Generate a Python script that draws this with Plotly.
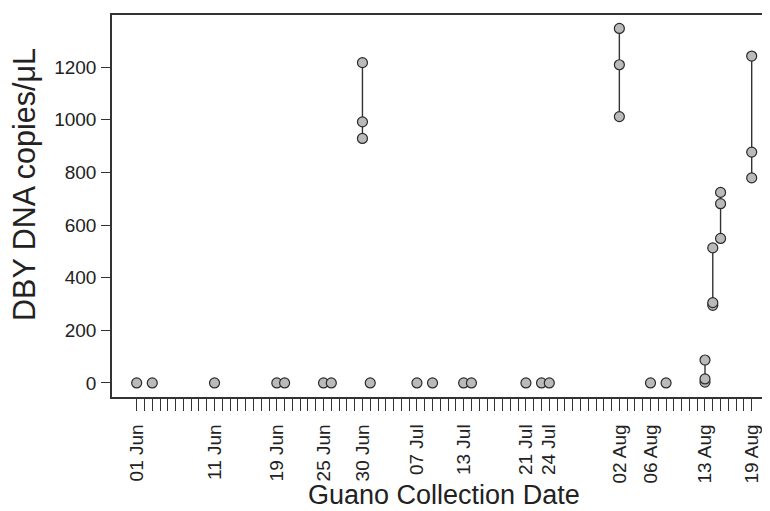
import plotly.graph_objects as go
from datetime import datetime, timedelta

YEAR = 2017

# one entry per sample: collection date (MM-DD) and DBY DNA copies/uL
collection_dates = [
    "06-01", "06-03", "06-11", "06-19", "06-20", "06-25", "06-26",
    "06-30", "06-30", "06-30", "07-01", "07-07", "07-09", "07-13", "07-14",
    "07-21", "07-23", "07-24",
    "08-02", "08-02", "08-02", "08-06", "08-08",
    "08-13", "08-13", "08-13",
    "08-14", "08-14", "08-14",
    "08-15", "08-15", "08-15",
    "08-19", "08-19", "08-19",
]
dna_copies = [
    0, 0, 0, 0, 0, 0, 0,
    1217, 992, 929, 0, 0, 0, 0, 0,
    0, 0, 0,
    1347, 1209, 1012, 0, 0,
    87, 15, 3,
    513, 305, 295,
    724, 681, 549,
    1242, 877, 779,
]

# labelled ticks on the date axis
tick_dates = ["06-01", "06-11", "06-19", "06-25", "06-30", "07-07", "07-13",
              "07-21", "07-24", "08-02", "08-06", "08-13", "08-19"]
tick_labels = ["01 Jun", "11 Jun", "19 Jun", "25 Jun", "30 Jun", "07 Jul", "13 Jul",
               "21 Jul", "24 Jul", "02 Aug", "06 Aug", "13 Aug", "19 Aug"]
first_day, last_day = "06-01", "08-19"
y_ticks = [0, 200, 400, 600, 800, 1000, 1200]


def to_date(md):
    return datetime.strptime(f"{YEAR}-{md}", "%Y-%m-%d")


def fmt(d):
    return d.strftime("%Y-%m-%d %H:%M:%S")


fig = go.Figure()

# group samples by date, draw a vertical segment between min and max
groups = {}
for d, v in zip(collection_dates, dna_copies):
    groups.setdefault(d, []).append(v)

for d, vals in groups.items():
    vs = sorted(vals)
    fig.add_trace(go.Scatter(
        x=[fmt(to_date(d))] * len(vs), y=vs,
        mode="lines+markers",
        line=dict(color="#333333", width=1.4),
        marker=dict(size=10, color="#BABABA", line=dict(color="#2a2a2a", width=1.2)),
        showlegend=False, hoverinfo="x+y",
    ))

# daily ticks
d0, d1 = to_date(first_day), to_date(last_day)
all_days = []
d = d0
while d <= d1:
    all_days.append(d)
    d += timedelta(days=1)
label_map = {to_date(t): lab for t, lab in zip(tick_dates, tick_labels)}
tickvals = [fmt(x) for x in all_days]
ticktext = [label_map.get(x, "") for x in all_days]

x_left = d0 - timedelta(days=3.17)
x_right = d0 + timedelta(days=81.35)

font_family = "Liberation Sans, Arial, sans-serif"

# page body has an 8px margin, so the figure is 762x503 placed at (8, 8)
fig.update_layout(
    width=762, height=503,
    margin=dict(l=104, r=0, t=7, b=114),
    paper_bgcolor="white", plot_bgcolor="white",
    font=dict(family=font_family, color="#222222"),
    xaxis=dict(
        type="date", range=[fmt(x_left), fmt(x_right)],
        tickmode="array", tickvals=tickvals, ticktext=ticktext,
        tickangle=-90, ticks="outside", ticklen=12, tickwidth=1.3, tickcolor="#333333",
        tickfont=dict(size=19, family=font_family, color="#222222"),
        ticklabelstandoff=6,
        showline=True, linecolor="#333333", linewidth=1.5, mirror=True,
        showgrid=False, zeroline=False,
    ),
    yaxis=dict(
        range=[-53.5, 1398],
        tickmode="array", tickvals=y_ticks, ticktext=[str(v) for v in y_ticks],
        ticks="outside", ticklen=9, tickwidth=1.3, tickcolor="#333333",
        tickfont=dict(size=19, family=font_family, color="#222222"),
        ticklabelstandoff=1,
        showline=True, linecolor="#333333", linewidth=1.5, mirror=False,
        showgrid=False, zeroline=False,
    ),
    annotations=[
        dict(text="Guano Collection Date", xref="paper", yref="paper",
             x=0.5046, y=0, yshift=-98, xanchor="center", yanchor="middle",
             showarrow=False, font=dict(size=27, family=font_family, color="#222222")),
        dict(text="DBY DNA copies/μL", xref="paper", yref="paper",
             x=0, xshift=-87, y=0.555, xanchor="center", yanchor="middle",
             textangle=-90, showarrow=False,
             font=dict(size=30.5, family=font_family, color="#222222")),
    ],
)

fig.write_html("out.html")
